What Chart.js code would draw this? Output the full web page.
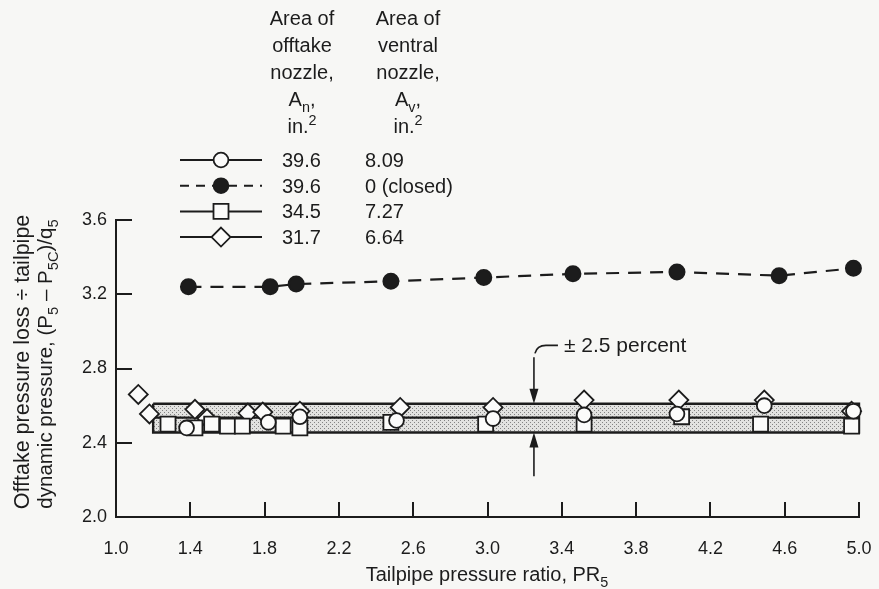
<!DOCTYPE html>
<html>
<head>
<meta charset="utf-8">
<script src="https://cdn.jsdelivr.net/npm/chart.js@4.4.1/dist/chart.umd.min.js"></script>
<style>
  html, body { margin: 0; padding: 0; background: #f7f7f5; }
  #wrap { width: 879px; height: 589px; }
</style>
</head>
<body>
<div id="wrap"><canvas id="chart" width="879" height="589"></canvas></div>
<script>
'use strict';

// ---- data ----
const openCircleX   = [1.38, 1.82, 1.99, 2.51, 3.03, 3.52, 4.02, 4.49, 4.97];
const openCircleY   = [2.48, 2.51, 2.54, 2.52, 2.53, 2.55, 2.555, 2.60, 2.57];
const filledCircleX = [1.39, 1.83, 1.97, 2.48, 2.98, 3.46, 4.02, 4.57, 4.97];
const filledCircleY = [3.24, 3.24, 3.255, 3.27, 3.29, 3.31, 3.32, 3.30, 3.34];
const squareX  = [1.28, 1.425, 1.515, 1.60, 1.68, 1.90, 1.99, 2.48, 2.99, 3.52, 4.045, 4.47, 4.96];
const squareY  = [2.50, 2.48, 2.50, 2.49, 2.49, 2.49, 2.48, 2.51, 2.50, 2.50, 2.54, 2.50, 2.49];
const diamondX = [1.12, 1.18, 1.425, 1.49, 1.71, 1.79, 1.99, 2.53, 3.03, 3.52, 4.03, 4.49, 4.96];
const diamondY = [2.66, 2.555, 2.58, 2.53, 2.56, 2.565, 2.57, 2.59, 2.59, 2.63, 2.63, 2.63, 2.57];

// +-2.5 percent band
const bandX = [1.2, 5.0];
const bandUpper = 2.61;
const bandMid = 2.535;
const bandLower = 2.455;
const arrowX = 3.25;
const arrowTails = [2.86, 2.22];

const offtakeArea = ['39.6', '39.6', '34.5', '31.7'];
const ventralArea = ['8.09', '0 (closed)', '7.27', '6.64'];

const xTicks = [1.0, 1.4, 1.8, 2.2, 2.6, 3.0, 3.4, 3.8, 4.2, 4.6, 5.0];
const yTicks = [2.0, 2.4, 2.8, 3.2, 3.6];

const INK = '#1c1c1c';
const FONT = "'Liberation Sans', Arial, sans-serif";
const TXT = 20;

const pts = (xs, ys) => xs.map((x, i) => ({ x, y: ys[i] }));

function stipple() {
  const c = document.createElement('canvas');
  c.width = 4; c.height = 4;
  const g = c.getContext('2d');
  g.fillStyle = '#e2e2e0';
  g.fillRect(0, 0, 4, 4);
  g.fillStyle = '#838383';
  g.fillRect(0, 0, 1, 1);
  g.fillRect(2, 2, 1, 1);
  return g.createPattern(c, 'repeat');
}

const bandRect = [
  { x: bandX[0], y: bandUpper }, { x: bandX[1], y: bandUpper },
  { x: bandX[1], y: bandLower }, { x: bandX[0], y: bandLower },
  { x: bandX[0], y: bandUpper }
];

const markerBase = { showLine: false, borderColor: INK, borderWidth: 1.8, clip: false, order: 1 };

const series = [
  { ...markerBase, label: 'open circle', data: pts(openCircleX, openCircleY), pointStyle: 'circle', pointRadius: 7.4, backgroundColor: '#fbfbfa' },
  { ...markerBase, label: 'filled circle', data: pts(filledCircleX, filledCircleY), pointStyle: 'circle', pointRadius: 7.4,
    backgroundColor: INK, showLine: true, borderDash: [13, 9], borderWidth: 2.2 },
  { ...markerBase, label: 'square', data: pts(squareX, squareY), pointStyle: 'rect', pointRadius: 10.6, backgroundColor: '#fbfbfa' },
  { ...markerBase, label: 'diamond', data: pts(diamondX, diamondY), pointStyle: 'rectRot', pointRadius: 9.5, backgroundColor: '#fbfbfa' },
  { label: 'band', data: bandRect, showLine: true, fill: 'shape', backgroundColor: stipple(),
    borderColor: INK, borderWidth: 2.4, pointRadius: 0, order: 10, clip: false },
  { label: 'band mid', data: pts(bandX, [bandMid, bandMid]), showLine: true, borderColor: INK, borderWidth: 2.2,
    pointRadius: 0, order: 9, clip: false }
];

// ---- text helpers ----
const f = s => `${s}px ${FONT}`;

function richWidth(ctx, parts, size) {
  let w = 0;
  parts.forEach(p => { ctx.font = f(p.s ? size * 0.72 : size); w += ctx.measureText(p.t).width; });
  return w;
}

function drawRich(ctx, parts, x, y, size, align) {
  const w = richWidth(ctx, parts, size);
  let cx = align === 'center' ? x - w / 2 : x;
  ctx.textAlign = 'left';
  ctx.textBaseline = 'alphabetic';
  parts.forEach(p => {
    const fs = p.s ? size * 0.72 : size;
    const dy = p.s === 'sub' ? size * 0.3 : p.s === 'sup' ? -size * 0.42 : 0;
    ctx.font = f(fs);
    ctx.fillText(p.t, cx, y + dy);
    cx += ctx.measureText(p.t).width;
  });
}

function marker(ctx, style, x, y, filled) {
  ctx.beginPath();
  if (style === 'circle') ctx.arc(x, y, 7.4, 0, Math.PI * 2);
  else if (style === 'rect') ctx.rect(x - 7.5, y - 7.5, 15, 15);
  else { ctx.moveTo(x, y - 9.5); ctx.lineTo(x + 9.5, y); ctx.lineTo(x, y + 9.5); ctx.lineTo(x - 9.5, y); ctx.closePath(); }
  ctx.fillStyle = filled ? INK : '#fbfbfa';
  ctx.fill();
  ctx.lineWidth = 1.8;
  ctx.strokeStyle = INK;
  ctx.stroke();
}

const decorations = {
  id: 'decorations',
  afterDraw(chart) {
    const { ctx, chartArea: a } = chart;
    const xs = chart.scales.x, ys = chart.scales.y;
    ctx.save();
    ctx.strokeStyle = INK;
    ctx.fillStyle = INK;

    // inward tick marks
    ctx.lineWidth = 2;
    xTicks.forEach(v => {
      const px = Math.round(xs.getPixelForValue(v));
      ctx.beginPath(); ctx.moveTo(px, a.bottom); ctx.lineTo(px, a.bottom - 15); ctx.stroke();
    });
    yTicks.forEach(v => {
      const py = Math.round(ys.getPixelForValue(v));
      ctx.beginPath(); ctx.moveTo(a.left, py); ctx.lineTo(a.left + 16, py); ctx.stroke();
    });

    // +-2.5 percent arrows
    const ax = xs.getPixelForValue(arrowX);
    const tips = [ys.getPixelForValue(bandUpper), ys.getPixelForValue(bandLower)];
    ctx.lineWidth = 1.6;
    arrowTails.forEach((t, i) => {
      const ty = ys.getPixelForValue(t), tip = tips[i];
      const dir = tip > ty ? 1 : -1;
      ctx.beginPath(); ctx.moveTo(ax, ty); ctx.lineTo(ax, tip - dir * 12); ctx.stroke();
      ctx.beginPath();
      ctx.moveTo(ax, tip); ctx.lineTo(ax - 4.5, tip - dir * 15); ctx.lineTo(ax + 4.5, tip - dir * 15);
      ctx.closePath(); ctx.fill();
    });
    const ty0 = ys.getPixelForValue(arrowTails[0]);
    ctx.beginPath();
    ctx.moveTo(ax + 1, ty0 - 4);
    ctx.quadraticCurveTo(ax + 3, ty0 - 12, ax + 12, ty0 - 12);
    ctx.lineTo(ax + 24, ty0 - 12);
    ctx.stroke();
    drawRich(ctx, [{ t: '\u00b1 2.5 percent' }], ax + 30, ty0 - 5, 21, 'left');

    // axis titles
    drawRich(ctx, [{ t: 'Tailpipe pressure ratio, PR' }, { t: '5', s: 'sub' }], 487, 581, TXT, 'center');
    ctx.save();
    ctx.translate(22, 362);
    ctx.rotate(-Math.PI / 2);
    drawRich(ctx, [{ t: 'Offtake pressure loss \u00f7 tailpipe' }], 0, 7, 21.5, 'center');
    ctx.restore();
    ctx.save();
    ctx.translate(45, 364);
    ctx.rotate(-Math.PI / 2);
    drawRich(ctx, [{ t: 'dynamic pressure, (P' }, { t: '5', s: 'sub' }, { t: ' \u2013 P' }, { t: '5C', s: 'sub' },
      { t: ')/q' }, { t: '5', s: 'sub' }], 0, 7, 20.5, 'center');
    ctx.restore();

    // legend header
    const head1 = [[{ t: 'Area of' }], [{ t: 'offtake' }], [{ t: 'nozzle,' }],
      [{ t: 'A' }, { t: 'n', s: 'sub' }, { t: ',' }], [{ t: 'in.' }, { t: '2', s: 'sup' }]];
    const head2 = [[{ t: 'Area of' }], [{ t: 'ventral' }], [{ t: 'nozzle,' }],
      [{ t: 'A' }, { t: 'v', s: 'sub' }, { t: ',' }], [{ t: 'in.' }, { t: '2', s: 'sup' }]];
    head1.forEach((ln, i) => drawRich(ctx, ln, 302, 25 + i * 27, TXT, 'center'));
    head2.forEach((ln, i) => drawRich(ctx, ln, 408, 25 + i * 27, TXT, 'center'));

    // legend rows
    const styles = ['circle', 'circle', 'rect', 'rectRot'];
    offtakeArea.forEach((v, i) => {
      const y = 160 + i * 25.7;
      ctx.lineWidth = 2;
      ctx.setLineDash(i === 1 ? [9, 7] : []);
      ctx.beginPath(); ctx.moveTo(180, y); ctx.lineTo(262, y); ctx.stroke();
      ctx.setLineDash([]);
      marker(ctx, styles[i], 221, y, i === 1);
      ctx.fillStyle = INK;
      drawRich(ctx, [{ t: v }], 282, y + 7, TXT, 'left');
      drawRich(ctx, [{ t: ventralArea[i] }], 365, y + 7, TXT, 'left');
    });
    ctx.restore();
  }
};

new Chart(document.getElementById('chart'), {
  type: 'scatter',
  data: { datasets: series },
  options: {
    responsive: false,
    animation: false,
    layout: { padding: { top: 220, right: 20, left: 0, bottom: 0 } },
    plugins: { legend: { display: false }, tooltip: { enabled: false } },
    elements: { line: { tension: 0 } },
    scales: {
      x: {
        type: 'linear', min: 1.0, max: 5.0,
        afterFit: s => { s.height = 72; s.paddingLeft = 0; s.paddingRight = 0; },
        afterBuildTicks: s => { s.ticks = xTicks.map(v => ({ value: v })); },
        grid: { drawOnChartArea: false, drawTicks: false },
        border: { display: true, color: INK, width: 2 },
        ticks: { color: INK, padding: 21, maxRotation: 0, font: { family: FONT, size: 18 }, callback: v => v.toFixed(1) }
      },
      y: {
        type: 'linear', min: 2.0, max: 3.6,
        afterFit: s => { s.width = 116; s.paddingTop = 0; s.paddingBottom = 0; },
        afterBuildTicks: s => { s.ticks = yTicks.map(v => ({ value: v })); },
        grid: { drawOnChartArea: false, drawTicks: false },
        border: { display: true, color: INK, width: 2 },
        ticks: { color: INK, padding: 9, font: { family: FONT, size: 18 }, callback: v => v.toFixed(1) }
      }
    }
  },
  plugins: [decorations]
});
</script>
</body>
</html>
